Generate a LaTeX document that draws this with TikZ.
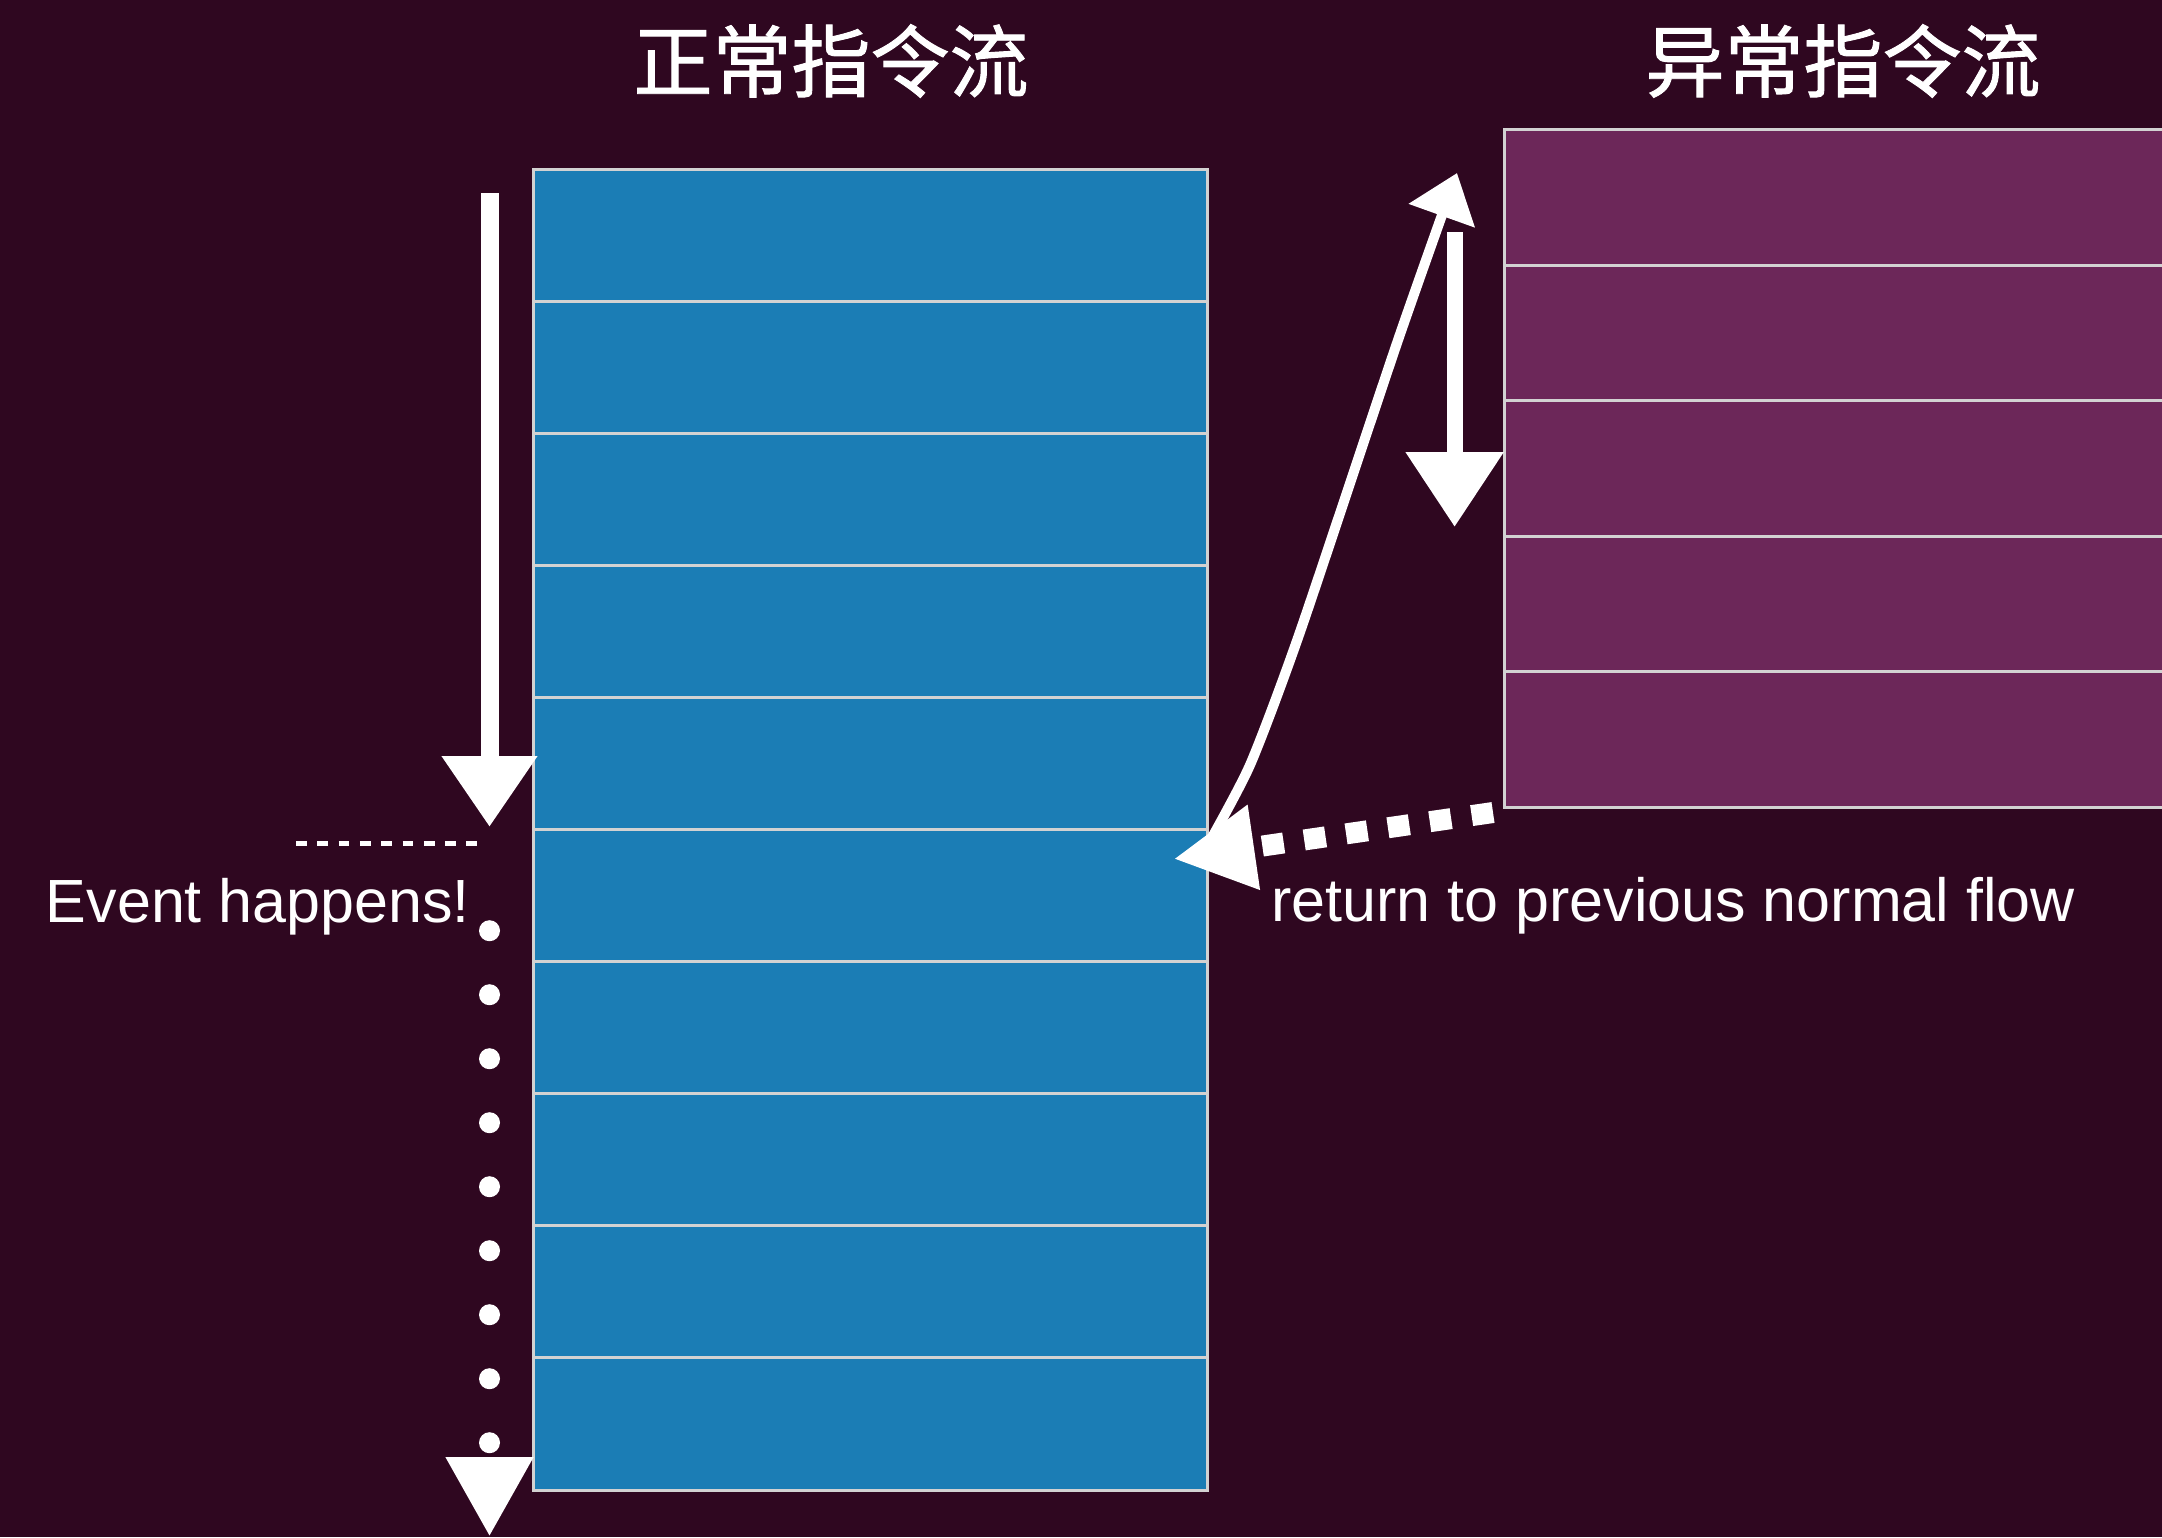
\documentclass[tikz,border=0pt]{standalone}
\usepackage{fontspec}
\setmainfont{Liberation Sans}
\newfontfamily\cjk[FakeBold=1.2]{Noto Sans CJK SC}
\usetikzlibrary{arrows.meta}
\definecolor{bgc}{RGB}{47,7,32}
\definecolor{bluec}{RGB}{27,125,181}
\definecolor{purplec}{RGB}{108,39,89}
\definecolor{gridc}{RGB}{210,210,210}
\tikzset{
  titletext/.style={text=white, font=\cjk\fontsize{39.5}{45}\selectfont, inner sep=0pt},
  labeltext/.style={text=white, font=\fontsize{30.5}{36}\selectfont, inner sep=0pt},
  bluecell/.style={draw=gridc, line width=1.5pt, fill=bluec, minimum width=337pt, minimum height=66.05pt, inner sep=0pt, outer sep=0pt, anchor=north west},
  purplecell/.style={draw=gridc, line width=1.5pt, fill=purplec, minimum width=340pt, minimum height=67.75pt, inner sep=0pt, outer sep=0pt, anchor=north west},
  chalk/.style={draw=white, line width=#1},
  dotarrow/.style={draw=white, line width=10.5pt, line cap=round, dash pattern=on 0pt off 32pt, -{Triangle[length=40pt, width=41pt]}},
  squarearrow/.style={draw=white, line width=10.5pt, dash pattern=on 10.8pt off 10.35pt, -{Triangle[length=40.7pt, width=40pt]}},
  jumparrow/.style={draw=white, line width=5pt, line join=round, line cap=round, -{Triangle[length=22.7pt, width=34pt]}},
}
\begin{document}
\begin{tikzpicture}[x=0.5pt, y=-0.5pt]
\useasboundingbox (0,0) rectangle (2162,1537);
\fill[bgc] (0,0) rectangle (2162,1537);

% titles
\node[titletext] (t1) at (831,61) {正常指令流};
\node[titletext] (t2) at (1843,61) {异常指令流};

% normal instruction stream
\foreach \i in {0,...,9} {
  \node[bluecell] (b\i) at (533.3,{169+\i*132.1}) {};
}
% exception instruction stream
\foreach \i in {0,...,4} {
  \node[purplecell] (p\i) at (1504,{129.7+\i*135.5}) {};
}

% chalk arrow, left
\coordinate (la1) at (489.5,193);
\coordinate (la2) at (489.5,827);
\draw[chalk=9pt, -{Triangle[length=35.5pt, width=45.5pt]}] (la1) -- (la2);

% chalk arrow, right
\coordinate (ra1) at (1454.6,232);
\coordinate (ra2) at (1454.6,527);
\draw[chalk=8pt, -{Triangle[length=37.5pt, width=47pt]}] (ra1) -- (ra2);

% event marker
\coordinate (e1) at (296,843.7);
\coordinate (e2) at (477,843.7);
\draw[white, line width=2.5pt, dash pattern=on 5.35pt off 5.3pt] (e1) -- (e2);
\node[labeltext, anchor=base west] (ev) at (45.5,922.7) {Event happens!};

% dotted continuation
\coordinate (d1) at (489.5,930.7);
\coordinate (d2) at (489.5,1537);
\draw[dotarrow] (d1) -- (d2);

% jump to exception flow
\coordinate (s0) at (1205,850);
\coordinate (s1) at (1250,765);
\coordinate (s2) at (1300,632);
\coordinate (s3) at (1397,343);
\coordinate (s4) at (1457,173);
\draw[jumparrow] plot[smooth, tension=0.4] coordinates {(s0) (s1) (s2) (s3) (s4)};

% return arrow
\coordinate (r1) at (1493,812.5);
\coordinate (r2) at (1173.3,859);
\draw[squarearrow] (r1) -- (r2);
\node[labeltext, anchor=base west] (ret) at (1271,921.5) {return to previous normal flow};
\end{tikzpicture}
\end{document}
